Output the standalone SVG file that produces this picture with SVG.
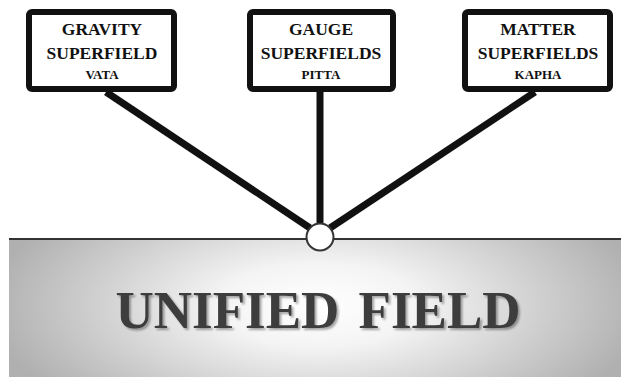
<svg xmlns="http://www.w3.org/2000/svg" width="621" height="377" viewBox="0 0 621 377">
<defs>
<radialGradient id="glow" gradientUnits="userSpaceOnUse" cx="318" cy="305" r="330" gradientTransform="translate(318 305) scale(1 0.42) translate(-318 -305)">
<stop offset="0" stop-color="#ffffff"/>
<stop offset="0.3" stop-color="#f4f4f4"/>
<stop offset="0.7" stop-color="#cdcdcd"/>
<stop offset="1" stop-color="#b0b0b0"/>
</radialGradient>
<filter id="shadow" x="-10%" y="-20%" width="120%" height="150%">
<feGaussianBlur in="SourceAlpha" stdDeviation="1.2"/>
<feOffset dx="1.5" dy="1.5" result="b"/>
<feComponentTransfer><feFuncA type="linear" slope="0.35"/></feComponentTransfer>
<feMerge><feMergeNode/><feMergeNode in="SourceGraphic"/></feMerge>
</filter>
</defs>
<style>
.box{fill:#ffffff;stroke:#111111;stroke-width:6}
.t1{font-family:"Liberation Serif","Times New Roman",serif;font-weight:bold;font-size:17.5px;fill:#111;text-anchor:middle}
.t2{font-family:"Liberation Serif","Times New Roman",serif;font-weight:bold;font-size:13px;fill:#111;text-anchor:middle}
.conn{stroke:#111111;stroke-width:7;stroke-linecap:butt;fill:none}
.big{font-family:"Liberation Serif","Times New Roman",serif;font-weight:bold;font-size:53px;fill:#3c3c3c;text-anchor:middle}
</style>
<rect x="0" y="0" width="621" height="377" fill="#ffffff"/>
<g id="unified-field">
<rect x="9" y="239" width="612" height="138" fill="url(#glow)"/>
<line x1="9" y1="239" x2="621" y2="239" stroke="#333333" stroke-width="2"/>
<text class="big" x="318" y="328" filter="url(#shadow)" word-spacing="6">UNIFIED FIELD</text>
</g>
<g id="connectors">
<line class="conn" x1="106" y1="92" x2="310" y2="228"/>
<line class="conn" x1="320" y1="92" x2="320" y2="224"/>
<line class="conn" x1="535" y1="92" x2="330" y2="228"/>
</g>
<g id="hub">
<circle cx="320" cy="237" r="13.5" fill="#ffffff" stroke="#333333" stroke-width="2"/>
</g>
<g id="gravity">
<rect class="box" x="29" y="12" width="145" height="77" rx="3"/>
<text class="t1" x="102" y="35">GRAVITY</text>
<text class="t1" x="102" y="59">SUPERFIELD</text>
<text class="t2" x="102" y="79">VATA</text>
</g>
<g id="gauge">
<rect class="box" x="250" y="12" width="143" height="77" rx="3"/>
<text class="t1" x="321" y="35">GAUGE</text>
<text class="t1" x="321" y="59">SUPERFIELDS</text>
<text class="t2" x="321" y="79">PITTA</text>
</g>
<g id="matter">
<rect class="box" x="465" y="12" width="145" height="77" rx="3"/>
<text class="t1" x="538" y="35">MATTER</text>
<text class="t1" x="538" y="59">SUPERFIELDS</text>
<text class="t2" x="538" y="79">KAPHA</text>
</g>
</svg>
